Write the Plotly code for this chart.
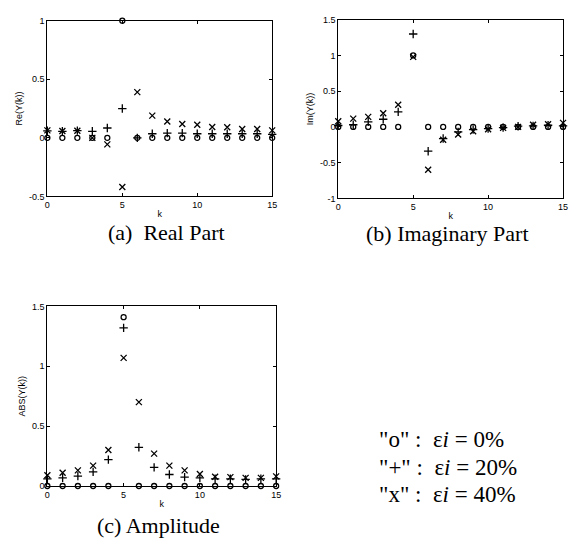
import plotly.graph_objects as go

k = list(range(16))

re_0 = [0, 0, 0, 0, 0, 1.0, 0, 0, 0, 0, 0, 0, 0, 0, 0, 0]
re_20 = [0.06, 0.056, 0.062, 0.056, 0.084, 0.25, 0.0, 0.035, 0.04, 0.04, 0.035, 0.035, 0.035, 0.035, 0.035, 0.03]
re_40 = [0.064, 0.058, 0.06, 0.0, -0.056, -0.42, 0.39, 0.19, 0.14, 0.118, 0.112, 0.092, 0.09, 0.076, 0.076, 0.064]

im_0 = [0, 0, 0, 0, 0, 1.0, 0, 0, 0, 0, 0, 0, 0, 0, 0, 0]
im_20 = [0.02, 0.03, 0.07, 0.107, 0.21, 1.3, -0.34, -0.163, -0.07, -0.037, -0.023, -0.01, 0.01, 0.014, 0.023, 0.014]
im_40 = [0.08, 0.116, 0.14, 0.19, 0.31, 0.98, -0.60, -0.18, -0.107, -0.06, -0.033, -0.014, 0.0, 0.03, 0.037, 0.056]

abs_0 = [0, 0, 0, 0, 0, 1.41, 0, 0, 0, 0, 0, 0, 0, 0, 0, 0]
abs_20 = [0.06, 0.068, 0.082, 0.118, 0.22, 1.32, 0.323, 0.155, 0.096, 0.074, 0.068, 0.06, 0.06, 0.055, 0.06, 0.06]
abs_40 = [0.09, 0.11, 0.13, 0.17, 0.30, 1.07, 0.70, 0.27, 0.17, 0.13, 0.10, 0.077, 0.074, 0.068, 0.068, 0.08]

x_ticks = [0, 5, 10, 15]
re_ticks = [-0.5, 0, 0.5, 1]
re_tick_text = ["-0.5", "0", "0.5", "1"]
im_ticks = [-1, -0.5, 0, 0.5, 1, 1.5]
im_tick_text = ["-1", "-0.5", "0", "0.5", "1", "1.5"]
abs_ticks = [0, 0.5, 1, 1.5]
abs_tick_text = ["0", "0.5", "1", "1.5"]

captions = ["(a)  Real Part", "(b) Imaginary Part", "(c) Amplitude"]
y_titles = ["Re(Y(k))", "Im(Y(k))", "ABS(Y(k))"]
legend_lines = ['"o" :  ε<i>i</i> = 0%', '"+" :  ε<i>i</i> = 20%', '"x" :  ε<i>i</i> = 40%']

W, H = 572, 543
sym = [("circle-open", 5), ("cross-thin-open", 6), ("x-thin-open", 6)]

fig = go.Figure()
panels = [
    ("x", "y", [re_0, re_20, re_40]),
    ("x2", "y2", [im_0, im_20, im_40]),
    ("x3", "y3", [abs_0, abs_20, abs_40]),
]
for xa, ya, series in panels:
    for (s, sz), vals in zip(sym, series):
        fig.add_trace(go.Scatter(
            x=k, y=vals, mode="markers", xaxis=xa, yaxis=ya,
            marker=dict(symbol=s, size=sz, color="black", line=dict(width=1.3, color="black")),
            showlegend=False, cliponaxis=False,
        ))

def xdom(l, r):
    return [l / W, r / W]

def ydom(t, b):
    return [1 - b / H, 1 - t / H]

tick_font = dict(family="Liberation Sans, Arial", size=9, color="black")
common = dict(showline=True, linecolor="black", linewidth=1, mirror="ticks",
              ticks="inside", ticklen=3, tickcolor="black", showgrid=False,
              zeroline=False, tickfont=tick_font)

def xaxis(dom, anchor):
    return dict(domain=dom, anchor=anchor, range=[0, 15], tickvals=x_ticks,
                title=dict(text="k", font=dict(family="Liberation Sans, Arial", size=9, color="black"), standoff=1),
                **common)

def yaxis(dom, anchor, rng, tv, tt, title):
    return dict(domain=dom, anchor=anchor, range=rng, tickvals=tv, ticktext=tt,
                title=dict(text=title, font=dict(family="Liberation Sans, Arial", size=9, color="black"), standoff=4),
                **common)

fig.update_layout(
    width=W, height=H,
    margin=dict(l=0, r=0, t=0, b=0),
    paper_bgcolor="white", plot_bgcolor="white",
    xaxis=xaxis(xdom(45, 273), "y"),
    yaxis=yaxis(ydom(16, 195), "x", [-0.5, 1], re_ticks, re_tick_text, y_titles[0]),
    xaxis2=xaxis(xdom(340, 568), "y2"),
    yaxis2=yaxis(ydom(15, 197), "x2", [-1, 1.5], im_ticks, im_tick_text, y_titles[1]),
    xaxis3=xaxis(xdom(45, 277), "y3"),
    yaxis3=yaxis(ydom(307, 490), "x3", [0, 1.5], abs_ticks, abs_tick_text, y_titles[2]),
)

serif = dict(family="Liberation Serif, Times New Roman", size=22, color="black")
cap_pos = [(166, 232), (451, 233), (158, 530)]
for txt, (cx, cy) in zip(captions, cap_pos):
    fig.add_annotation(text=txt, x=cx / W, y=1 - cy / H, xref="paper", yref="paper",
                       showarrow=False, font=serif, xanchor="center", yanchor="middle")

leg_y = [443, 471, 499]
for txt, ly in zip(legend_lines, leg_y):
    fig.add_annotation(text=txt, x=379 / W, y=1 - ly / H, xref="paper", yref="paper",
                       showarrow=False, font=dict(family="Liberation Serif, Times New Roman", size=23, color="black"),
                       xanchor="left", yanchor="middle")

fig.write_html("out.html")
